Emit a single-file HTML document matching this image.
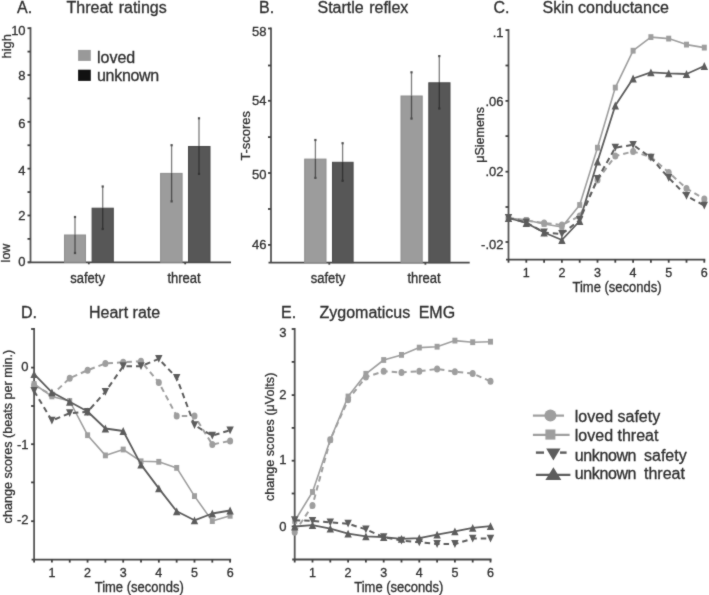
<!DOCTYPE html>
<html><head><meta charset="utf-8"><style>
html,body{margin:0;padding:0;background:#fff;}
svg{display:block;font-family:"Liberation Sans", sans-serif;will-change:transform;} text{stroke:#2e2e2e;stroke-width:0.3px;}
</style></head><body>
<svg width="709" height="595" viewBox="0 0 709 595">
<defs><filter id="bl" x="0" y="0" width="709" height="595" filterUnits="userSpaceOnUse" color-interpolation-filters="sRGB"><feConvolveMatrix order="3" kernelMatrix="1 3 1 3 24 3 1 3 1" edgeMode="duplicate"/></filter></defs>
<g filter="url(#bl)">
<rect width="709" height="595" fill="#fff"/>
<text x="17" y="12.6" font-size="16" text-anchor="start" fill="#2e2e2e" >A.</text>
<text x="66.5" y="12.6" font-size="16" text-anchor="start" fill="#2e2e2e" word-spacing="1.5">Threat ratings</text>
<text x="259" y="12.8" font-size="16" text-anchor="start" fill="#2e2e2e" >B.</text>
<text x="317.5" y="12.8" font-size="16" text-anchor="start" fill="#2e2e2e" word-spacing="1">Startle reflex</text>
<text x="493.5" y="13" font-size="16" text-anchor="start" fill="#2e2e2e" >C.</text>
<text x="542.5" y="12.8" font-size="16" text-anchor="start" fill="#2e2e2e" >Skin conductance</text>
<text x="21" y="317.6" font-size="16" text-anchor="start" fill="#2e2e2e" >D.</text>
<text x="89" y="317.6" font-size="16" text-anchor="start" fill="#2e2e2e" >Heart rate</text>
<text x="281" y="317.6" font-size="16" text-anchor="start" fill="#2e2e2e" >E.</text>
<text x="319.5" y="317.6" font-size="16" text-anchor="start" fill="#2e2e2e" word-spacing="4">Zygomaticus EMG</text>
<line x1="30.5" y1="27.200000000000017" x2="30.5" y2="262.3" stroke="#555555" stroke-width="1.8" />
<line x1="27.5" y1="262.3" x2="30.5" y2="262.3" stroke="#404040" stroke-width="1.8" />
<line x1="27.5" y1="238.89000000000001" x2="30.5" y2="238.89000000000001" stroke="#404040" stroke-width="1.8" />
<line x1="27.5" y1="215.48000000000002" x2="30.5" y2="215.48000000000002" stroke="#404040" stroke-width="1.8" />
<line x1="27.5" y1="192.07" x2="30.5" y2="192.07" stroke="#404040" stroke-width="1.8" />
<line x1="27.5" y1="168.66000000000003" x2="30.5" y2="168.66000000000003" stroke="#404040" stroke-width="1.8" />
<line x1="27.5" y1="145.25" x2="30.5" y2="145.25" stroke="#404040" stroke-width="1.8" />
<line x1="27.5" y1="121.84" x2="30.5" y2="121.84" stroke="#404040" stroke-width="1.8" />
<line x1="27.5" y1="98.43" x2="30.5" y2="98.43" stroke="#404040" stroke-width="1.8" />
<line x1="27.5" y1="75.02000000000001" x2="30.5" y2="75.02000000000001" stroke="#404040" stroke-width="1.8" />
<line x1="27.5" y1="51.610000000000014" x2="30.5" y2="51.610000000000014" stroke="#404040" stroke-width="1.8" />
<line x1="27.5" y1="28.200000000000017" x2="30.5" y2="28.200000000000017" stroke="#404040" stroke-width="1.8" />
<text x="25.6" y="265.75" font-size="13" text-anchor="end" fill="#2e2e2e" >0</text>
<text x="25.6" y="219.65" font-size="13" text-anchor="end" fill="#2e2e2e" >2</text>
<text x="25.6" y="174.55" font-size="13" text-anchor="end" fill="#2e2e2e" >4</text>
<text x="25.6" y="127.55" font-size="13" text-anchor="end" fill="#2e2e2e" >6</text>
<text x="25.6" y="80.35" font-size="13" text-anchor="end" fill="#2e2e2e" >8</text>
<text x="25.6" y="34.85" font-size="13" text-anchor="end" fill="#2e2e2e" >10</text>
<line x1="28.0" y1="262.3" x2="231" y2="262.3" stroke="#464646" stroke-width="1.8" />
<line x1="88.8" y1="262.3" x2="88.8" y2="264.3" stroke="#404040" stroke-width="1.8" />
<line x1="185.2" y1="262.3" x2="185.2" y2="264.3" stroke="#404040" stroke-width="1.8" />
<rect x="64.5" y="235.0" width="21" height="27.30000000000001" fill="#9c9c9c" stroke="#8e8e8e" stroke-width="1"/>
<rect x="92.1" y="208.2" width="21.2" height="54.10000000000002" fill="#575757" stroke="#4a4a4a" stroke-width="1"/>
<rect x="160.6" y="173.4" width="21.5" height="88.9" fill="#9c9c9c" stroke="#8e8e8e" stroke-width="1"/>
<rect x="188.5" y="146.5" width="21.5" height="115.80000000000001" fill="#575757" stroke="#4a4a4a" stroke-width="1"/>
<line x1="75" y1="217" x2="75" y2="234.5" stroke="#7c7c7c" stroke-width="1.3" />
<line x1="75" y1="234.5" x2="75" y2="253" stroke="#4e4e4e" stroke-width="1.3" />
<rect x="73.9" y="215.9" width="2.2" height="2.2" fill="#505050"/>
<rect x="73.9" y="251.9" width="2.2" height="2.2" fill="#4a4a4a"/>
<line x1="102.7" y1="186.5" x2="102.7" y2="207.7" stroke="#7c7c7c" stroke-width="1.3" />
<line x1="102.7" y1="207.7" x2="102.7" y2="229" stroke="#333333" stroke-width="1.3" />
<rect x="101.60000000000001" y="185.4" width="2.2" height="2.2" fill="#505050"/>
<rect x="101.60000000000001" y="227.9" width="2.2" height="2.2" fill="#333333"/>
<line x1="171.6" y1="145.2" x2="171.6" y2="172.9" stroke="#7c7c7c" stroke-width="1.3" />
<line x1="171.6" y1="172.9" x2="171.6" y2="201.4" stroke="#4e4e4e" stroke-width="1.3" />
<rect x="170.5" y="144.1" width="2.2" height="2.2" fill="#505050"/>
<rect x="170.5" y="200.3" width="2.2" height="2.2" fill="#4a4a4a"/>
<line x1="199" y1="118.3" x2="199" y2="146" stroke="#7c7c7c" stroke-width="1.3" />
<line x1="199" y1="146" x2="199" y2="173.9" stroke="#333333" stroke-width="1.3" />
<rect x="197.9" y="117.2" width="2.2" height="2.2" fill="#505050"/>
<rect x="197.9" y="172.8" width="2.2" height="2.2" fill="#333333"/>
<text transform="translate(87.6,282.6) scale(1,1.14)" font-size="13" text-anchor="middle" fill="#2e2e2e" >safety</text>
<text transform="translate(184,282.6) scale(1,1.14)" font-size="13" text-anchor="middle" fill="#2e2e2e" >threat</text>
<text transform="translate(10.8,58.5) rotate(-90)" font-size="12.9" fill="#2e2e2e">high</text>
<text transform="translate(10.3,262.4) rotate(-90)" font-size="12.5" fill="#2e2e2e">low</text>
<rect x="78.1" y="49.9" width="12.7" height="11" fill="#999999"/>
<rect x="78.1" y="69.7" width="12.7" height="11.2" fill="#111111"/>
<text x="97" y="63" font-size="16" text-anchor="start" fill="#2e2e2e" >loved</text>
<text x="97" y="80.5" font-size="16" text-anchor="start" fill="#2e2e2e" letter-spacing="-0.3">unknown</text>
<line x1="271" y1="27.5" x2="271" y2="262.7" stroke="#555555" stroke-width="1.8" />
<line x1="268" y1="244.9" x2="271" y2="244.9" stroke="#404040" stroke-width="1.8" />
<line x1="268" y1="209" x2="271" y2="209" stroke="#404040" stroke-width="1.8" />
<line x1="268" y1="173" x2="271" y2="173" stroke="#404040" stroke-width="1.8" />
<line x1="268" y1="137.1" x2="271" y2="137.1" stroke="#404040" stroke-width="1.8" />
<line x1="268" y1="100.8" x2="271" y2="100.8" stroke="#404040" stroke-width="1.8" />
<line x1="268" y1="65.5" x2="271" y2="65.5" stroke="#404040" stroke-width="1.8" />
<line x1="268" y1="28.5" x2="271" y2="28.5" stroke="#404040" stroke-width="1.8" />
<text x="266.5" y="249.15" font-size="13" text-anchor="end" fill="#2e2e2e" >46</text>
<text x="266.5" y="178.55" font-size="13" text-anchor="end" fill="#2e2e2e" >50</text>
<text x="266.5" y="105.35" font-size="13" text-anchor="end" fill="#2e2e2e" >54</text>
<text x="266.5" y="35.65" font-size="13" text-anchor="end" fill="#2e2e2e" >58</text>
<line x1="268.5" y1="262.7" x2="469.7" y2="262.7" stroke="#464646" stroke-width="1.8" />
<line x1="329.3" y1="262.7" x2="329.3" y2="264.7" stroke="#404040" stroke-width="1.8" />
<line x1="425.4" y1="262.7" x2="425.4" y2="264.7" stroke="#404040" stroke-width="1.8" />
<rect x="304.7" y="159.1" width="21.3" height="103.6" fill="#9c9c9c" stroke="#8e8e8e" stroke-width="1"/>
<rect x="332.5" y="162.3" width="20.6" height="100.39999999999998" fill="#575757" stroke="#4a4a4a" stroke-width="1"/>
<rect x="401.0" y="96.0" width="21.2" height="166.7" fill="#9c9c9c" stroke="#8e8e8e" stroke-width="1"/>
<rect x="428.8" y="82.8" width="21.2" height="179.89999999999998" fill="#575757" stroke="#4a4a4a" stroke-width="1"/>
<line x1="315.4" y1="140" x2="315.4" y2="158.6" stroke="#7c7c7c" stroke-width="1.3" />
<line x1="315.4" y1="158.6" x2="315.4" y2="177.9" stroke="#4e4e4e" stroke-width="1.3" />
<rect x="314.29999999999995" y="138.9" width="2.2" height="2.2" fill="#505050"/>
<rect x="314.29999999999995" y="176.8" width="2.2" height="2.2" fill="#4a4a4a"/>
<line x1="342.6" y1="143.2" x2="342.6" y2="161.8" stroke="#7c7c7c" stroke-width="1.3" />
<line x1="342.6" y1="161.8" x2="342.6" y2="180.8" stroke="#333333" stroke-width="1.3" />
<rect x="341.5" y="142.1" width="2.2" height="2.2" fill="#505050"/>
<rect x="341.5" y="179.70000000000002" width="2.2" height="2.2" fill="#333333"/>
<line x1="411.5" y1="72.3" x2="411.5" y2="95.5" stroke="#7c7c7c" stroke-width="1.3" />
<line x1="411.5" y1="95.5" x2="411.5" y2="118.6" stroke="#4e4e4e" stroke-width="1.3" />
<rect x="410.4" y="71.2" width="2.2" height="2.2" fill="#505050"/>
<rect x="410.4" y="117.5" width="2.2" height="2.2" fill="#4a4a4a"/>
<line x1="439.3" y1="56.1" x2="439.3" y2="82.3" stroke="#7c7c7c" stroke-width="1.3" />
<line x1="439.3" y1="82.3" x2="439.3" y2="108.5" stroke="#333333" stroke-width="1.3" />
<rect x="438.2" y="55.0" width="2.2" height="2.2" fill="#505050"/>
<rect x="438.2" y="107.4" width="2.2" height="2.2" fill="#333333"/>
<text transform="translate(328,282.6) scale(1,1.14)" font-size="13" text-anchor="middle" fill="#2e2e2e" >safety</text>
<text transform="translate(424,282.6) scale(1,1.14)" font-size="13" text-anchor="middle" fill="#2e2e2e" >threat</text>
<text transform="translate(250.2,160.6) rotate(-90)" font-size="12.9" fill="#2e2e2e" letter-spacing="0">T-scores</text>
<line x1="508.5" y1="29.1" x2="508.5" y2="259.7" stroke="#555555" stroke-width="1.8" />
<line x1="505.5" y1="30.1" x2="508.5" y2="30.1" stroke="#404040" stroke-width="1.8" />
<line x1="505.5" y1="65.5" x2="508.5" y2="65.5" stroke="#404040" stroke-width="1.8" />
<line x1="505.5" y1="100.9" x2="508.5" y2="100.9" stroke="#404040" stroke-width="1.8" />
<line x1="505.5" y1="136.1" x2="508.5" y2="136.1" stroke="#404040" stroke-width="1.8" />
<line x1="505.5" y1="171.7" x2="508.5" y2="171.7" stroke="#404040" stroke-width="1.8" />
<line x1="505.5" y1="207" x2="508.5" y2="207" stroke="#404040" stroke-width="1.8" />
<line x1="505.5" y1="242" x2="508.5" y2="242" stroke="#404040" stroke-width="1.8" />
<line x1="506.0" y1="259.7" x2="705.3" y2="259.7" stroke="#464646" stroke-width="1.8" />
<line x1="508.5" y1="259.7" x2="508.5" y2="262.7" stroke="#404040" stroke-width="1.8" />
<line x1="526.3" y1="259.7" x2="526.3" y2="262.7" stroke="#404040" stroke-width="1.8" />
<line x1="544.1" y1="259.7" x2="544.1" y2="262.7" stroke="#404040" stroke-width="1.8" />
<line x1="561.9" y1="259.7" x2="561.9" y2="262.7" stroke="#404040" stroke-width="1.8" />
<line x1="579.7" y1="259.7" x2="579.7" y2="262.7" stroke="#404040" stroke-width="1.8" />
<line x1="597.5" y1="259.7" x2="597.5" y2="262.7" stroke="#404040" stroke-width="1.8" />
<line x1="615.3" y1="259.7" x2="615.3" y2="262.7" stroke="#404040" stroke-width="1.8" />
<line x1="633.1" y1="259.7" x2="633.1" y2="262.7" stroke="#404040" stroke-width="1.8" />
<line x1="650.9" y1="259.7" x2="650.9" y2="262.7" stroke="#404040" stroke-width="1.8" />
<line x1="668.7" y1="259.7" x2="668.7" y2="262.7" stroke="#404040" stroke-width="1.8" />
<line x1="686.5" y1="259.7" x2="686.5" y2="262.7" stroke="#404040" stroke-width="1.8" />
<line x1="704.3" y1="259.7" x2="704.3" y2="262.7" stroke="#404040" stroke-width="1.8" />
<text x="526.3" y="277.2" font-size="12.5" text-anchor="middle" fill="#2e2e2e" >1</text>
<text x="561.9" y="277.2" font-size="12.5" text-anchor="middle" fill="#2e2e2e" >2</text>
<text x="597.5" y="277.2" font-size="12.5" text-anchor="middle" fill="#2e2e2e" >3</text>
<text x="633.1" y="277.2" font-size="12.5" text-anchor="middle" fill="#2e2e2e" >4</text>
<text x="668.7" y="277.2" font-size="12.5" text-anchor="middle" fill="#2e2e2e" >5</text>
<text x="704.3" y="277.2" font-size="12.5" text-anchor="middle" fill="#2e2e2e" >6</text>
<text x="503.5" y="36.55" font-size="13" text-anchor="end" fill="#2e2e2e" >.1</text>
<text x="503.5" y="105.85" font-size="13" text-anchor="end" fill="#2e2e2e" >.06</text>
<text x="503.5" y="176.15" font-size="13" text-anchor="end" fill="#2e2e2e" >.02</text>
<text x="503.5" y="249.15" font-size="13" text-anchor="end" fill="#2e2e2e" >-.02</text>
<text transform="translate(617,292.3) scale(1,1.1)" font-size="13" text-anchor="middle" fill="#2e2e2e" >Time (seconds)</text>
<text transform="translate(484.2,162.8) rotate(-90)" font-size="12.5" fill="#2e2e2e">μSiemens</text>
<polyline points="508.5,218.0 526.3,220.5 544.1,223.0 561.9,225.0 579.7,216.0 597.5,180.0 615.3,156.0 633.1,151.5 650.9,157.0 668.7,172.4 686.5,188.5 704.3,198.9" fill="none" stroke="#9e9e9e" stroke-width="2" stroke-linejoin="round" stroke-dasharray="5.5,4"/>
<ellipse cx="508.5" cy="218.0" rx="3.00" ry="3.50" fill="#9e9e9e"/>
<ellipse cx="526.3" cy="220.5" rx="3.00" ry="3.50" fill="#9e9e9e"/>
<ellipse cx="544.1" cy="223.0" rx="3.00" ry="3.50" fill="#9e9e9e"/>
<ellipse cx="561.9" cy="225.0" rx="3.00" ry="3.50" fill="#9e9e9e"/>
<ellipse cx="579.7" cy="216.0" rx="3.00" ry="3.50" fill="#9e9e9e"/>
<ellipse cx="597.5" cy="180.0" rx="3.00" ry="3.50" fill="#9e9e9e"/>
<ellipse cx="615.3" cy="156.0" rx="3.00" ry="3.50" fill="#9e9e9e"/>
<ellipse cx="633.1" cy="151.5" rx="3.00" ry="3.50" fill="#9e9e9e"/>
<ellipse cx="650.9" cy="157.0" rx="3.00" ry="3.50" fill="#9e9e9e"/>
<ellipse cx="668.7" cy="172.4" rx="3.00" ry="3.50" fill="#9e9e9e"/>
<ellipse cx="686.5" cy="188.5" rx="3.00" ry="3.50" fill="#9e9e9e"/>
<ellipse cx="704.3" cy="198.9" rx="3.00" ry="3.50" fill="#9e9e9e"/>
<polyline points="508.5,218.0 526.3,220.0 544.1,224.0 561.9,227.0 579.7,205.0 597.5,147.7 615.3,87.6 633.1,50.7 650.9,37.1 668.7,38.6 686.5,44.6 704.3,47.6" fill="none" stroke="#9e9e9e" stroke-width="1.6" stroke-linejoin="round" />
<rect x="506.0" y="215.1" width="5.0" height="5.8" fill="#9e9e9e"/>
<rect x="523.8" y="217.1" width="5.0" height="5.8" fill="#9e9e9e"/>
<rect x="541.6" y="221.1" width="5.0" height="5.8" fill="#9e9e9e"/>
<rect x="559.4" y="224.1" width="5.0" height="5.8" fill="#9e9e9e"/>
<rect x="577.2" y="202.1" width="5.0" height="5.8" fill="#9e9e9e"/>
<rect x="595.0" y="144.8" width="5.0" height="5.8" fill="#9e9e9e"/>
<rect x="612.8" y="84.7" width="5.0" height="5.8" fill="#9e9e9e"/>
<rect x="630.6" y="47.8" width="5.0" height="5.8" fill="#9e9e9e"/>
<rect x="648.4" y="34.2" width="5.0" height="5.8" fill="#9e9e9e"/>
<rect x="666.2" y="35.7" width="5.0" height="5.8" fill="#9e9e9e"/>
<rect x="684.0" y="41.7" width="5.0" height="5.8" fill="#9e9e9e"/>
<rect x="701.8" y="44.7" width="5.0" height="5.8" fill="#9e9e9e"/>
<polyline points="508.5,218.0 526.3,222.5 544.1,232.5 561.9,234.0 579.7,220.0 597.5,178.8 615.3,147.7 633.1,144.8 650.9,157.7 668.7,177.9 686.5,195.9 704.3,205.6" fill="none" stroke="#5c5c5c" stroke-width="2" stroke-linejoin="round" stroke-dasharray="5.5,4"/>
<path d="M504.8,214.1L512.2,214.1L508.5,221.9Z" fill="#5c5c5c"/>
<path d="M522.6,218.6L530.0,218.6L526.3,226.4Z" fill="#5c5c5c"/>
<path d="M540.4,228.6L547.8,228.6L544.1,236.4Z" fill="#5c5c5c"/>
<path d="M558.2,230.1L565.6,230.1L561.9,237.9Z" fill="#5c5c5c"/>
<path d="M576.0,216.1L583.4,216.1L579.7,223.9Z" fill="#5c5c5c"/>
<path d="M593.8,174.9L601.2,174.9L597.5,182.7Z" fill="#5c5c5c"/>
<path d="M611.6,143.8L619.0,143.8L615.3,151.6Z" fill="#5c5c5c"/>
<path d="M629.4,140.9L636.8,140.9L633.1,148.7Z" fill="#5c5c5c"/>
<path d="M647.2,153.8L654.6,153.8L650.9,161.6Z" fill="#5c5c5c"/>
<path d="M665.0,174.0L672.4,174.0L668.7,181.8Z" fill="#5c5c5c"/>
<path d="M682.8,192.0L690.2,192.0L686.5,199.8Z" fill="#5c5c5c"/>
<path d="M700.6,201.7L708.0,201.7L704.3,209.5Z" fill="#5c5c5c"/>
<polyline points="508.5,218.0 526.3,223.0 544.1,232.5 561.9,240.0 579.7,221.0 597.5,161.6 615.3,105.5 633.1,78.5 650.9,72.4 668.7,73.4 686.5,74.0 704.3,66.0" fill="none" stroke="#5c5c5c" stroke-width="1.8" stroke-linejoin="round" />
<path d="M504.8,221.9L512.2,221.9L508.5,214.1Z" fill="#5c5c5c"/>
<path d="M522.6,226.9L530.0,226.9L526.3,219.1Z" fill="#5c5c5c"/>
<path d="M540.4,236.4L547.8,236.4L544.1,228.6Z" fill="#5c5c5c"/>
<path d="M558.2,243.9L565.6,243.9L561.9,236.1Z" fill="#5c5c5c"/>
<path d="M576.0,224.9L583.4,224.9L579.7,217.1Z" fill="#5c5c5c"/>
<path d="M593.8,165.5L601.2,165.5L597.5,157.7Z" fill="#5c5c5c"/>
<path d="M611.6,109.4L619.0,109.4L615.3,101.6Z" fill="#5c5c5c"/>
<path d="M629.4,82.4L636.8,82.4L633.1,74.6Z" fill="#5c5c5c"/>
<path d="M647.2,76.3L654.6,76.3L650.9,68.5Z" fill="#5c5c5c"/>
<path d="M665.0,77.3L672.4,77.3L668.7,69.5Z" fill="#5c5c5c"/>
<path d="M682.8,77.9L690.2,77.9L686.5,70.1Z" fill="#5c5c5c"/>
<path d="M700.6,69.9L708.0,69.9L704.3,62.1Z" fill="#5c5c5c"/>
<line x1="34.1" y1="328" x2="34.1" y2="559.6" stroke="#555555" stroke-width="1.8" />
<line x1="31.1" y1="329" x2="34.1" y2="329" stroke="#404040" stroke-width="1.8" />
<line x1="31.1" y1="367.6" x2="34.1" y2="367.6" stroke="#404040" stroke-width="1.8" />
<line x1="31.1" y1="406" x2="34.1" y2="406" stroke="#404040" stroke-width="1.8" />
<line x1="31.1" y1="444.2" x2="34.1" y2="444.2" stroke="#404040" stroke-width="1.8" />
<line x1="31.1" y1="482.4" x2="34.1" y2="482.4" stroke="#404040" stroke-width="1.8" />
<line x1="31.1" y1="521.2" x2="34.1" y2="521.2" stroke="#404040" stroke-width="1.8" />
<line x1="31.6" y1="559.6" x2="231.12" y2="559.6" stroke="#464646" stroke-width="1.8" />
<line x1="34.1" y1="559.6" x2="34.1" y2="562.6" stroke="#404040" stroke-width="1.8" />
<line x1="51.92" y1="559.6" x2="51.92" y2="562.6" stroke="#404040" stroke-width="1.8" />
<line x1="69.74000000000001" y1="559.6" x2="69.74000000000001" y2="562.6" stroke="#404040" stroke-width="1.8" />
<line x1="87.56" y1="559.6" x2="87.56" y2="562.6" stroke="#404040" stroke-width="1.8" />
<line x1="105.38" y1="559.6" x2="105.38" y2="562.6" stroke="#404040" stroke-width="1.8" />
<line x1="123.19999999999999" y1="559.6" x2="123.19999999999999" y2="562.6" stroke="#404040" stroke-width="1.8" />
<line x1="141.02" y1="559.6" x2="141.02" y2="562.6" stroke="#404040" stroke-width="1.8" />
<line x1="158.84" y1="559.6" x2="158.84" y2="562.6" stroke="#404040" stroke-width="1.8" />
<line x1="176.66" y1="559.6" x2="176.66" y2="562.6" stroke="#404040" stroke-width="1.8" />
<line x1="194.48" y1="559.6" x2="194.48" y2="562.6" stroke="#404040" stroke-width="1.8" />
<line x1="212.29999999999998" y1="559.6" x2="212.29999999999998" y2="562.6" stroke="#404040" stroke-width="1.8" />
<line x1="230.12" y1="559.6" x2="230.12" y2="562.6" stroke="#404040" stroke-width="1.8" />
<text x="51.92" y="577.1" font-size="12.5" text-anchor="middle" fill="#2e2e2e" >1</text>
<text x="87.56" y="577.1" font-size="12.5" text-anchor="middle" fill="#2e2e2e" >2</text>
<text x="123.19999999999999" y="577.1" font-size="12.5" text-anchor="middle" fill="#2e2e2e" >3</text>
<text x="158.84" y="577.1" font-size="12.5" text-anchor="middle" fill="#2e2e2e" >4</text>
<text x="194.48" y="577.1" font-size="12.5" text-anchor="middle" fill="#2e2e2e" >5</text>
<text x="230.12" y="577.1" font-size="12.5" text-anchor="middle" fill="#2e2e2e" >6</text>
<text x="28.5" y="370.95" font-size="13" text-anchor="end" fill="#2e2e2e" >0</text>
<text x="28.5" y="448.95" font-size="13" text-anchor="end" fill="#2e2e2e" >-1</text>
<text x="28.5" y="524.25" font-size="13" text-anchor="end" fill="#2e2e2e" >-2</text>
<text transform="translate(139.2,591.8) scale(1,1.1)" font-size="13" text-anchor="middle" fill="#2e2e2e" >Time (seconds)</text>
<text transform="translate(11.8,523.4) rotate(-90)" font-size="12.6" fill="#2e2e2e">change scores (beats per min.)</text>
<polyline points="34.1,385.2 51.9,395.0 69.7,378.2 87.6,370.2 105.4,363.5 123.2,362.2 141.0,361.2 158.8,382.4 176.7,416.1 194.5,416.1 212.3,444.4 230.1,441.0" fill="none" stroke="#9e9e9e" stroke-width="2" stroke-linejoin="round" stroke-dasharray="5.5,4"/>
<ellipse cx="34.1" cy="385.2" rx="3.00" ry="3.50" fill="#9e9e9e"/>
<ellipse cx="51.9" cy="395.0" rx="3.00" ry="3.50" fill="#9e9e9e"/>
<ellipse cx="69.7" cy="378.2" rx="3.00" ry="3.50" fill="#9e9e9e"/>
<ellipse cx="87.6" cy="370.2" rx="3.00" ry="3.50" fill="#9e9e9e"/>
<ellipse cx="105.4" cy="363.5" rx="3.00" ry="3.50" fill="#9e9e9e"/>
<ellipse cx="123.2" cy="362.2" rx="3.00" ry="3.50" fill="#9e9e9e"/>
<ellipse cx="141.0" cy="361.2" rx="3.00" ry="3.50" fill="#9e9e9e"/>
<ellipse cx="158.8" cy="382.4" rx="3.00" ry="3.50" fill="#9e9e9e"/>
<ellipse cx="176.7" cy="416.1" rx="3.00" ry="3.50" fill="#9e9e9e"/>
<ellipse cx="194.5" cy="416.1" rx="3.00" ry="3.50" fill="#9e9e9e"/>
<ellipse cx="212.3" cy="444.4" rx="3.00" ry="3.50" fill="#9e9e9e"/>
<ellipse cx="230.1" cy="441.0" rx="3.00" ry="3.50" fill="#9e9e9e"/>
<polyline points="34.1,384.0 51.9,396.4 69.7,401.0 87.6,435.2 105.4,455.4 123.2,449.5 141.0,461.3 158.8,461.8 176.7,467.9 194.5,496.1 212.3,521.1 230.1,515.8" fill="none" stroke="#9e9e9e" stroke-width="1.6" stroke-linejoin="round" />
<rect x="31.6" y="381.1" width="5.0" height="5.8" fill="#9e9e9e"/>
<rect x="49.4" y="393.5" width="5.0" height="5.8" fill="#9e9e9e"/>
<rect x="67.2" y="398.1" width="5.0" height="5.8" fill="#9e9e9e"/>
<rect x="85.1" y="432.3" width="5.0" height="5.8" fill="#9e9e9e"/>
<rect x="102.9" y="452.5" width="5.0" height="5.8" fill="#9e9e9e"/>
<rect x="120.7" y="446.6" width="5.0" height="5.8" fill="#9e9e9e"/>
<rect x="138.5" y="458.4" width="5.0" height="5.8" fill="#9e9e9e"/>
<rect x="156.3" y="458.9" width="5.0" height="5.8" fill="#9e9e9e"/>
<rect x="174.2" y="465.0" width="5.0" height="5.8" fill="#9e9e9e"/>
<rect x="192.0" y="493.2" width="5.0" height="5.8" fill="#9e9e9e"/>
<rect x="209.8" y="518.2" width="5.0" height="5.8" fill="#9e9e9e"/>
<rect x="227.6" y="512.9" width="5.0" height="5.8" fill="#9e9e9e"/>
<polyline points="34.1,391.0 51.9,420.6 69.7,413.2 87.6,411.8 105.4,391.8 123.2,366.2 141.0,366.2 158.8,358.9 176.7,377.8 194.5,425.2 212.3,435.6 230.1,430.3" fill="none" stroke="#5c5c5c" stroke-width="2" stroke-linejoin="round" stroke-dasharray="5.5,4"/>
<path d="M30.4,387.1L37.8,387.1L34.1,394.9Z" fill="#5c5c5c"/>
<path d="M48.2,416.7L55.6,416.7L51.9,424.5Z" fill="#5c5c5c"/>
<path d="M66.0,409.3L73.4,409.3L69.7,417.1Z" fill="#5c5c5c"/>
<path d="M83.9,407.9L91.3,407.9L87.6,415.7Z" fill="#5c5c5c"/>
<path d="M101.7,387.9L109.1,387.9L105.4,395.7Z" fill="#5c5c5c"/>
<path d="M119.5,362.3L126.9,362.3L123.2,370.1Z" fill="#5c5c5c"/>
<path d="M137.3,362.3L144.7,362.3L141.0,370.1Z" fill="#5c5c5c"/>
<path d="M155.1,355.0L162.5,355.0L158.8,362.8Z" fill="#5c5c5c"/>
<path d="M173.0,373.9L180.4,373.9L176.7,381.7Z" fill="#5c5c5c"/>
<path d="M190.8,421.3L198.2,421.3L194.5,429.1Z" fill="#5c5c5c"/>
<path d="M208.6,431.7L216.0,431.7L212.3,439.5Z" fill="#5c5c5c"/>
<path d="M226.4,426.4L233.8,426.4L230.1,434.2Z" fill="#5c5c5c"/>
<polyline points="34.1,374.2 51.9,392.3 69.7,401.8 87.6,411.5 105.4,428.5 123.2,431.0 141.0,464.6 158.8,488.4 176.7,511.3 194.5,520.3 212.3,513.5 230.1,510.5" fill="none" stroke="#5c5c5c" stroke-width="1.8" stroke-linejoin="round" />
<path d="M30.4,378.1L37.8,378.1L34.1,370.3Z" fill="#5c5c5c"/>
<path d="M48.2,396.2L55.6,396.2L51.9,388.4Z" fill="#5c5c5c"/>
<path d="M66.0,405.7L73.4,405.7L69.7,397.9Z" fill="#5c5c5c"/>
<path d="M83.9,415.4L91.3,415.4L87.6,407.6Z" fill="#5c5c5c"/>
<path d="M101.7,432.4L109.1,432.4L105.4,424.6Z" fill="#5c5c5c"/>
<path d="M119.5,434.9L126.9,434.9L123.2,427.1Z" fill="#5c5c5c"/>
<path d="M137.3,468.5L144.7,468.5L141.0,460.7Z" fill="#5c5c5c"/>
<path d="M155.1,492.3L162.5,492.3L158.8,484.5Z" fill="#5c5c5c"/>
<path d="M173.0,515.2L180.4,515.2L176.7,507.4Z" fill="#5c5c5c"/>
<path d="M190.8,524.2L198.2,524.2L194.5,516.4Z" fill="#5c5c5c"/>
<path d="M208.6,517.4L216.0,517.4L212.3,509.6Z" fill="#5c5c5c"/>
<path d="M226.4,514.4L233.8,514.4L230.1,506.6Z" fill="#5c5c5c"/>
<line x1="294.7" y1="328" x2="294.7" y2="559.5" stroke="#555555" stroke-width="1.8" />
<line x1="291.7" y1="329" x2="294.7" y2="329" stroke="#404040" stroke-width="1.8" />
<line x1="291.7" y1="361.9" x2="294.7" y2="361.9" stroke="#404040" stroke-width="1.8" />
<line x1="291.7" y1="395.1" x2="294.7" y2="395.1" stroke="#404040" stroke-width="1.8" />
<line x1="291.7" y1="427.9" x2="294.7" y2="427.9" stroke="#404040" stroke-width="1.8" />
<line x1="291.7" y1="460.7" x2="294.7" y2="460.7" stroke="#404040" stroke-width="1.8" />
<line x1="291.7" y1="493.5" x2="294.7" y2="493.5" stroke="#404040" stroke-width="1.8" />
<line x1="291.7" y1="526.4" x2="294.7" y2="526.4" stroke="#404040" stroke-width="1.8" />
<line x1="292.2" y1="559.5" x2="491.5" y2="559.5" stroke="#464646" stroke-width="1.8" />
<line x1="294.7" y1="559.5" x2="294.7" y2="562.5" stroke="#404040" stroke-width="1.8" />
<line x1="312.5" y1="559.5" x2="312.5" y2="562.5" stroke="#404040" stroke-width="1.8" />
<line x1="330.3" y1="559.5" x2="330.3" y2="562.5" stroke="#404040" stroke-width="1.8" />
<line x1="348.1" y1="559.5" x2="348.1" y2="562.5" stroke="#404040" stroke-width="1.8" />
<line x1="365.9" y1="559.5" x2="365.9" y2="562.5" stroke="#404040" stroke-width="1.8" />
<line x1="383.7" y1="559.5" x2="383.7" y2="562.5" stroke="#404040" stroke-width="1.8" />
<line x1="401.5" y1="559.5" x2="401.5" y2="562.5" stroke="#404040" stroke-width="1.8" />
<line x1="419.3" y1="559.5" x2="419.3" y2="562.5" stroke="#404040" stroke-width="1.8" />
<line x1="437.1" y1="559.5" x2="437.1" y2="562.5" stroke="#404040" stroke-width="1.8" />
<line x1="454.9" y1="559.5" x2="454.9" y2="562.5" stroke="#404040" stroke-width="1.8" />
<line x1="472.7" y1="559.5" x2="472.7" y2="562.5" stroke="#404040" stroke-width="1.8" />
<line x1="490.5" y1="559.5" x2="490.5" y2="562.5" stroke="#404040" stroke-width="1.8" />
<text x="312.5" y="577.0" font-size="12.5" text-anchor="middle" fill="#2e2e2e" >1</text>
<text x="348.1" y="577.0" font-size="12.5" text-anchor="middle" fill="#2e2e2e" >2</text>
<text x="383.7" y="577.0" font-size="12.5" text-anchor="middle" fill="#2e2e2e" >3</text>
<text x="419.3" y="577.0" font-size="12.5" text-anchor="middle" fill="#2e2e2e" >4</text>
<text x="454.9" y="577.0" font-size="12.5" text-anchor="middle" fill="#2e2e2e" >5</text>
<text x="490.5" y="577.0" font-size="12.5" text-anchor="middle" fill="#2e2e2e" >6</text>
<text x="286.5" y="336.55" font-size="13" text-anchor="end" fill="#2e2e2e" >3</text>
<text x="286.5" y="399.25" font-size="13" text-anchor="end" fill="#2e2e2e" >2</text>
<text x="286.5" y="464.15" font-size="13" text-anchor="end" fill="#2e2e2e" >1</text>
<text x="286.5" y="531.15" font-size="13" text-anchor="end" fill="#2e2e2e" >0</text>
<text transform="translate(398.8,591.8) scale(1,1.1)" font-size="13" text-anchor="middle" fill="#2e2e2e" >Time (seconds)</text>
<text transform="translate(273.6,501) rotate(-90)" font-size="12.6" fill="#2e2e2e">change scores (μVolts)</text>
<polyline points="294.7,532.2 312.5,505.4 330.3,439.7 348.1,399.8 365.9,377.1 383.7,371.3 401.5,372.4 419.3,371.2 437.1,368.9 454.9,371.7 472.7,373.5 490.5,381.3" fill="none" stroke="#9e9e9e" stroke-width="2" stroke-linejoin="round" stroke-dasharray="5.5,4"/>
<ellipse cx="294.7" cy="532.2" rx="3.00" ry="3.50" fill="#9e9e9e"/>
<ellipse cx="312.5" cy="505.4" rx="3.00" ry="3.50" fill="#9e9e9e"/>
<ellipse cx="330.3" cy="439.7" rx="3.00" ry="3.50" fill="#9e9e9e"/>
<ellipse cx="348.1" cy="399.8" rx="3.00" ry="3.50" fill="#9e9e9e"/>
<ellipse cx="365.9" cy="377.1" rx="3.00" ry="3.50" fill="#9e9e9e"/>
<ellipse cx="383.7" cy="371.3" rx="3.00" ry="3.50" fill="#9e9e9e"/>
<ellipse cx="401.5" cy="372.4" rx="3.00" ry="3.50" fill="#9e9e9e"/>
<ellipse cx="419.3" cy="371.2" rx="3.00" ry="3.50" fill="#9e9e9e"/>
<ellipse cx="437.1" cy="368.9" rx="3.00" ry="3.50" fill="#9e9e9e"/>
<ellipse cx="454.9" cy="371.7" rx="3.00" ry="3.50" fill="#9e9e9e"/>
<ellipse cx="472.7" cy="373.5" rx="3.00" ry="3.50" fill="#9e9e9e"/>
<ellipse cx="490.5" cy="381.3" rx="3.00" ry="3.50" fill="#9e9e9e"/>
<polyline points="294.7,521.0 312.5,492.0 330.3,439.7 348.1,396.5 365.9,373.8 383.7,360.0 401.5,354.9 419.3,347.6 437.1,346.7 454.9,340.6 472.7,342.2 490.5,341.7" fill="none" stroke="#9e9e9e" stroke-width="1.6" stroke-linejoin="round" />
<rect x="292.2" y="518.1" width="5.0" height="5.8" fill="#9e9e9e"/>
<rect x="310.0" y="489.1" width="5.0" height="5.8" fill="#9e9e9e"/>
<rect x="327.8" y="436.8" width="5.0" height="5.8" fill="#9e9e9e"/>
<rect x="345.6" y="393.6" width="5.0" height="5.8" fill="#9e9e9e"/>
<rect x="363.4" y="370.9" width="5.0" height="5.8" fill="#9e9e9e"/>
<rect x="381.2" y="357.1" width="5.0" height="5.8" fill="#9e9e9e"/>
<rect x="399.0" y="352.0" width="5.0" height="5.8" fill="#9e9e9e"/>
<rect x="416.8" y="344.7" width="5.0" height="5.8" fill="#9e9e9e"/>
<rect x="434.6" y="343.8" width="5.0" height="5.8" fill="#9e9e9e"/>
<rect x="452.4" y="337.7" width="5.0" height="5.8" fill="#9e9e9e"/>
<rect x="470.2" y="339.3" width="5.0" height="5.8" fill="#9e9e9e"/>
<rect x="488.0" y="338.8" width="5.0" height="5.8" fill="#9e9e9e"/>
<polyline points="294.7,520.2 312.5,520.9 330.3,522.3 348.1,523.7 365.9,529.4 383.7,537.2 401.5,540.6 419.3,542.3 437.1,544.0 454.9,544.0 472.7,538.6 490.5,538.6" fill="none" stroke="#5c5c5c" stroke-width="2" stroke-linejoin="round" stroke-dasharray="5.5,4"/>
<path d="M291.0,516.3L298.4,516.3L294.7,524.1Z" fill="#5c5c5c"/>
<path d="M308.8,517.0L316.2,517.0L312.5,524.8Z" fill="#5c5c5c"/>
<path d="M326.6,518.4L334.0,518.4L330.3,526.2Z" fill="#5c5c5c"/>
<path d="M344.4,519.8L351.8,519.8L348.1,527.6Z" fill="#5c5c5c"/>
<path d="M362.2,525.5L369.6,525.5L365.9,533.3Z" fill="#5c5c5c"/>
<path d="M380.0,533.3L387.4,533.3L383.7,541.1Z" fill="#5c5c5c"/>
<path d="M397.8,536.7L405.2,536.7L401.5,544.5Z" fill="#5c5c5c"/>
<path d="M415.6,538.4L423.0,538.4L419.3,546.2Z" fill="#5c5c5c"/>
<path d="M433.4,540.1L440.8,540.1L437.1,547.9Z" fill="#5c5c5c"/>
<path d="M451.2,540.1L458.6,540.1L454.9,547.9Z" fill="#5c5c5c"/>
<path d="M469.0,534.7L476.4,534.7L472.7,542.5Z" fill="#5c5c5c"/>
<path d="M486.8,534.7L494.2,534.7L490.5,542.5Z" fill="#5c5c5c"/>
<polyline points="294.7,526.5 312.5,525.1 330.3,528.7 348.1,533.6 365.9,536.4 383.7,537.1 401.5,538.9 419.3,538.1 437.1,534.7 454.9,531.3 472.7,527.9 490.5,526.2" fill="none" stroke="#5c5c5c" stroke-width="1.8" stroke-linejoin="round" />
<path d="M291.0,530.4L298.4,530.4L294.7,522.6Z" fill="#5c5c5c"/>
<path d="M308.8,529.0L316.2,529.0L312.5,521.2Z" fill="#5c5c5c"/>
<path d="M326.6,532.6L334.0,532.6L330.3,524.8Z" fill="#5c5c5c"/>
<path d="M344.4,537.5L351.8,537.5L348.1,529.7Z" fill="#5c5c5c"/>
<path d="M362.2,540.3L369.6,540.3L365.9,532.5Z" fill="#5c5c5c"/>
<path d="M380.0,541.0L387.4,541.0L383.7,533.2Z" fill="#5c5c5c"/>
<path d="M397.8,542.8L405.2,542.8L401.5,535.0Z" fill="#5c5c5c"/>
<path d="M415.6,542.0L423.0,542.0L419.3,534.2Z" fill="#5c5c5c"/>
<path d="M433.4,538.6L440.8,538.6L437.1,530.8Z" fill="#5c5c5c"/>
<path d="M451.2,535.2L458.6,535.2L454.9,527.4Z" fill="#5c5c5c"/>
<path d="M469.0,531.8L476.4,531.8L472.7,524.0Z" fill="#5c5c5c"/>
<path d="M486.8,530.1L494.2,530.1L490.5,522.3Z" fill="#5c5c5c"/>
<line x1="532.9" y1="415.6" x2="564" y2="415.6" stroke="#9e9e9e" stroke-width="2.2" />
<ellipse cx="550.4" cy="415.6" rx="6" ry="6" fill="#9e9e9e"/>
<line x1="532.9" y1="434.8" x2="569.6" y2="434.8" stroke="#9e9e9e" stroke-width="2.2" />
<rect x="545.4" y="429.5" width="10" height="10.1" fill="#9e9e9e"/>
<line x1="535.9" y1="452.6" x2="544" y2="452.6" stroke="#5c5c5c" stroke-width="2.4" />
<line x1="560" y1="452.6" x2="566.6" y2="452.6" stroke="#5c5c5c" stroke-width="2.4" />
<path d="M546.2,448.4L560.5,448.4L553.4,460.5Z" fill="#5c5c5c"/>
<line x1="535.9" y1="474.9" x2="570.4" y2="474.9" stroke="#5c5c5c" stroke-width="2.4" />
<path d="M545.4,479.9L561.3,479.9L553.4,467.3Z" fill="#5c5c5c"/>
<text x="574.8" y="422.4" font-size="16" text-anchor="start" fill="#2e2e2e" >loved safety</text>
<text x="574.8" y="441.2" font-size="16" text-anchor="start" fill="#2e2e2e" >loved threat</text>
<text x="574.8" y="460.5" font-size="16" text-anchor="start" fill="#2e2e2e" letter-spacing="-0.4">unknown</text>
<text x="644" y="460.5" font-size="16" text-anchor="start" fill="#2e2e2e" >safety</text>
<text x="574.8" y="479.2" font-size="16" text-anchor="start" fill="#2e2e2e" letter-spacing="-0.4">unknown</text>
<text x="644" y="479.2" font-size="16" text-anchor="start" fill="#2e2e2e" >threat</text>
</g>
</svg>
</body></html>
